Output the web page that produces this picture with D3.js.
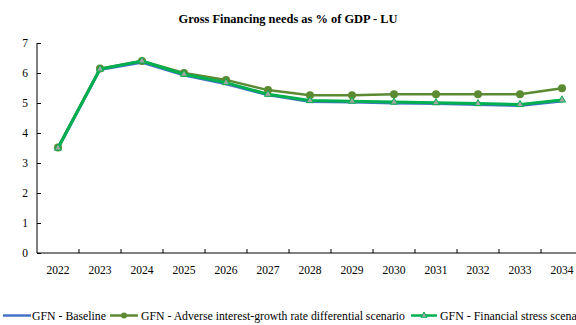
<!DOCTYPE html>
<html><head><meta charset="utf-8">
<script src="https://cdn.jsdelivr.net/npm/d3@7"></script>
<style>body{margin:0;background:#fff}svg text{font-family:"Liberation Serif","Times New Roman",serif !important}</style>
</head><body><svg id="c" width="576" height="325"></svg>
<script>
const years = ["2022","2023","2024","2025","2026","2027","2028","2029","2030","2031","2032","2033","2034"];
const baseline = [3.5,6.12,6.36,5.93,5.64,5.27,5.05,5.03,5.0,4.98,4.95,4.92,5.07];
const adverse = [3.52,6.15,6.4,6.0,5.77,5.43,5.26,5.26,5.29,5.29,5.29,5.29,5.49];
const fstress = [3.5,6.13,6.4,5.96,5.68,5.29,5.08,5.06,5.03,5.01,4.98,4.95,5.1];
const yTicks = [0,1,2,3,4,5,6,7];
const title = "Gross Financing needs as % of GDP  - LU";
const names = ["GFN - Baseline","GFN - Adverse interest-growth rate differential scenario","GFN - Financial stress scenario"];

const svg = d3.select("#c");
const x = d3.scaleBand().domain(years).range([37,583]);
const y = d3.scaleLinear().domain([0,7]).range([253,43]);

svg.append("text").attr("x",288).attr("y",23).attr("text-anchor","middle")
  .attr("font-weight","bold").attr("font-size",13.5).attr("textLength",219).attr("lengthAdjust","spacingAndGlyphs").text(title);

const ya = svg.append("g").attr("transform","translate(37,0)")
  .call(d3.axisRight(y).tickValues(yTicks).tickSize(4).tickFormat(d3.format("d")));
ya.selectAll("text").attr("x",-9).attr("text-anchor","end");
const xa = svg.append("g").attr("transform","translate(0,253)")
  .call(d3.axisBottom(x).tickSize(0).tickPadding(13));
[ya,xa].forEach(a=>{a.selectAll("text").attr("font-size",11.5).attr("fill","#000");
  a.select(".domain").attr("stroke","#000");a.selectAll("line").attr("stroke","#000");});
ya.select(".domain").attr("d","M0,43V253");
xa.select(".domain").attr("d","M37,0H576");
// ticks between categories (inward)
svg.append("g").selectAll("line").data(years.slice(1)).join("line")
  .attr("x1",d=>x(d)).attr("x2",d=>x(d)).attr("y1",253).attr("y2",249).attr("stroke","#000");

const cx = (d,i)=>x(years[i])+x.bandwidth()/2;
const line = d3.line().x(cx).y(d=>y(d));
svg.append("path").attr("d",line(baseline)).attr("fill","none").attr("stroke","#4472C4").attr("stroke-width",3);
svg.append("path").attr("d",line(adverse)).attr("fill","none").attr("stroke","#5B8A32").attr("stroke-width",2.5);
svg.append("g").selectAll("circle").data(adverse).join("circle")
  .attr("cx",cx).attr("cy",d=>y(d)).attr("r",4).attr("fill","#5B8A32");
svg.append("path").attr("d",line(fstress)).attr("fill","none").attr("stroke","#00B050").attr("stroke-width",3);
const tri = d3.symbol().type(d3.symbolTriangle).size(22);
svg.append("g").selectAll("path").data(fstress).join("path")
  .attr("transform",(d,i)=>`translate(${cx(d,i)},${y(d)})`)
  .attr("d",tri).attr("fill","#A5A5A5").attr("stroke","#00B050").attr("stroke-width",1);

// legend
const lg = svg.append("g").attr("font-size",12).attr("fill","#000");
const ly = 320;
lg.append("line").attr("x1",3).attr("x2",31).attr("y1",ly-4.5).attr("y2",ly-4.5).attr("stroke","#4472C4").attr("stroke-width",2.5);
lg.append("text").attr("x",32).attr("y",ly).attr("textLength",74).attr("lengthAdjust","spacingAndGlyphs").text(names[0]);
lg.append("line").attr("x1",110).attr("x2",138).attr("y1",ly-4.5).attr("y2",ly-4.5).attr("stroke","#5B8A32").attr("stroke-width",2.5);
lg.append("circle").attr("cx",124).attr("cy",ly-4.5).attr("r",3).attr("fill","#5B8A32");
lg.append("text").attr("x",141).attr("y",ly).attr("textLength",264).attr("lengthAdjust","spacingAndGlyphs").text(names[1]);
lg.append("line").attr("x1",411).attr("x2",437).attr("y1",ly-4.5).attr("y2",ly-4.5).attr("stroke","#00B050").attr("stroke-width",2.5);
lg.append("path").attr("transform",`translate(424,${ly-4.5})`).attr("d",d3.symbol().type(d3.symbolTriangle).size(16)).attr("fill","#A5A5A5").attr("stroke","#00B050");
lg.append("text").attr("x",440).attr("y",ly).attr("textLength",150).attr("lengthAdjust","spacingAndGlyphs").text(names[2]);
</script></body></html>
